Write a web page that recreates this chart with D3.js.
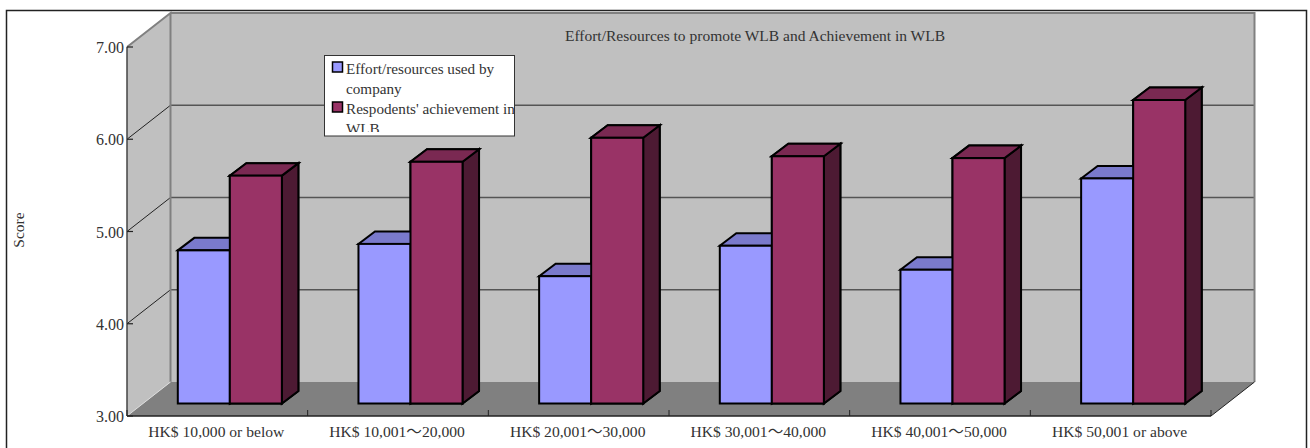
<!DOCTYPE html>
<html><head><meta charset="utf-8">
<script src="https://cdnjs.cloudflare.com/ajax/libs/d3/7.8.5/d3.min.js"></script>
<style>
html,body{margin:0;padding:0;background:#fff;overflow:hidden}
text{font-family:"Liberation Serif","Noto Sans CJK TC",serif;fill:#333}
</style></head><body><div id="c"></div>
<script>
const categories=["HK$ 10,000 or below","HK$ 10,001～20,000","HK$ 20,001～30,000","HK$ 30,001～40,000","HK$ 40,001～50,000","HK$ 50,001 or above"];
const effort=[4.66,4.73,4.38,4.71,4.45,5.44];
const achievement=[5.47,5.62,5.88,5.68,5.66,6.29];
const yTicks=[3,4,5,6,7];
const gridTicks=[4,5,6];
const seriesNames=["Effort/resources used by","company","Respodents' achievement in","WLB"];
const W=1310,H=448;
const svg=d3.select("#c").append("svg").attr("width",W).attr("height",H).style("display","block");
const x=d3.scaleBand().domain(categories).range([127,1211]);
const y=d3.scaleLinear().domain([3,7]).range([416,47]);
const depthX=43.5,depthY=-34;
const pts=a=>a.map(p=>p.join(",")).join(" ");
// frame
svg.append("path").attr("d",`M6.5,${H}V10.5H1306.5V${H}`).attr("fill","none").attr("stroke","#222").attr("stroke-width",1.5);
// walls
const xL=127,xR=1211,yB=y(3),yT=y(7);
svg.append("polygon").attr("points",pts([[xL,yB],[xL,yT],[xL+depthX,yT+depthY],[xL+depthX,yB+depthY]])).attr("fill","#c0c0c0");
svg.append("rect").attr("x",xL+depthX).attr("y",yT+depthY).attr("width",xR-xL).attr("height",yB-yT).attr("fill","#c0c0c0");
svg.append("polygon").attr("points",pts([[xL,yB],[xR,yB],[xR+depthX,yB+depthY],[xL+depthX,yB+depthY]])).attr("fill","#808080");
// gridlines
gridTicks.forEach(t=>{
  svg.append("line").attr("x1",xL).attr("y1",y(t)).attr("x2",xL+depthX).attr("y2",y(t)+depthY).attr("stroke","#222").attr("stroke-width",1);
  svg.append("line").attr("x1",xL+depthX).attr("y1",y(t)+depthY).attr("x2",xR+depthX).attr("y2",y(t)+depthY).attr("stroke","#555").attr("stroke-width",1.5);
});
// wall edges
svg.append("path").attr("d",`M${xL},${yT}L${xL+depthX},${yT+depthY}V${yB+depthY}M${xL+depthX},${yT+depthY}H${xR+depthX}V${yB+depthY}`).attr("fill","none").attr("stroke","#808080").attr("stroke-width",2);
svg.append("line").attr("x1",xR).attr("y1",yB).attr("x2",xR+depthX).attr("y2",yB+depthY).attr("stroke","#222");
svg.append("line").attr("x1",xL).attr("y1",yB).attr("x2",xL+depthX).attr("y2",yB+depthY).attr("stroke","#ddd");
// axes
const axY=svg.append("g");
axY.append("line").attr("x1",xL).attr("x2",xL).attr("y1",yT).attr("y2",yB).attr("stroke","#444").attr("stroke-width",1.5);
axY.selectAll("g").data(yTicks).join("g").each(function(t){
  const g=d3.select(this);
  g.append("line").attr("x1",xL).attr("x2",xL+6).attr("y1",y(t)).attr("y2",y(t)).attr("stroke","#222").attr("stroke-width",1.2);
  g.append("text").attr("x",xL-3).attr("y",y(t)+6).attr("text-anchor","end").attr("font-size",16).text(d3.format(".2f")(t));
});
svg.append("line").attr("x1",xL).attr("x2",xR).attr("y1",yB).attr("y2",yB).attr("stroke","#222").attr("stroke-width",1.5);
d3.range(categories.length+1).forEach(i=>{
  const px=xL+i*x.step();
  svg.append("line").attr("x1",px).attr("x2",px).attr("y1",yB-6).attr("y2",yB).attr("stroke","#222");
});
svg.selectAll("text.cat").data(categories).join("text").attr("class","cat")
  .attr("x",d=>x(d)+x.bandwidth()/2-1).attr("y",437).attr("text-anchor","middle").attr("font-size",15.6).text(d=>d);
// bars
const barW=x.step()*0.288, barDX=16.5, barDY=-12.5, barShift=-barW+x.step()/2+12.5;
const yBar=v=>y(v)+barDY;
function bar(px,v,c){
  const t=yBar(v),b=yBar(3);
  const g=svg.append("g").attr("stroke","#000").attr("stroke-width",2).attr("stroke-linejoin","miter");
  g.append("polygon").attr("points",pts([[px+barW,b],[px+barW,t],[px+barW+barDX,t+barDY],[px+barW+barDX,b+barDY]])).attr("fill",c[2]);
  g.append("polygon").attr("points",pts([[px,t],[px+barW,t],[px+barW+barDX,t+barDY],[px+barDX,t+barDY]])).attr("fill",c[1]);
  g.append("rect").attr("x",px).attr("y",t).attr("width",barW).attr("height",b-t).attr("fill",c[0]);
}
const col1=["#9999ff","#7a7acc","#4d4d80"],col2=["#993366","#7a2952","#4d1a33"];
categories.forEach((d,i)=>{
  const px=x(d)+barShift;
  bar(px+barW,achievement[i],col2);
  bar(px,effort[i],col1);
  bar(px+barW,achievement[i],col2);
});
// title
svg.append("text").attr("x",755).attr("y",41).attr("text-anchor","middle").attr("font-size",15.5).text("Effort/Resources to promote WLB and Achievement in WLB");
svg.append("text").attr("transform","translate(23.5,230) rotate(-90)").attr("text-anchor","middle").attr("font-size",15.5).text("Score");
// legend
const defs=svg.append("defs");
defs.append("clipPath").attr("id","lg").append("rect").attr("x",324).attr("y",55).attr("width",190).attr("height",77);
svg.append("rect").attr("x",324.5).attr("y",55.5).attr("width",190).attr("height",80.5).attr("fill","#fff").attr("stroke","#333").attr("stroke-width",1);
const lg=svg.append("g").attr("clip-path","url(#lg)");
lg.selectAll("text").data(seriesNames).join("text").attr("x",346).attr("y",(d,i)=>i===3?134:74+i*20).attr("font-size",15.2).text(d=>d);
[[col1[0],62],[col2[0],102]].forEach(s=>{
  svg.append("rect").attr("x",332.5).attr("y",s[1]).attr("width",10).attr("height",10).attr("fill",s[0]).attr("stroke","#000").attr("stroke-width",1.5);
});
</script></body></html>
